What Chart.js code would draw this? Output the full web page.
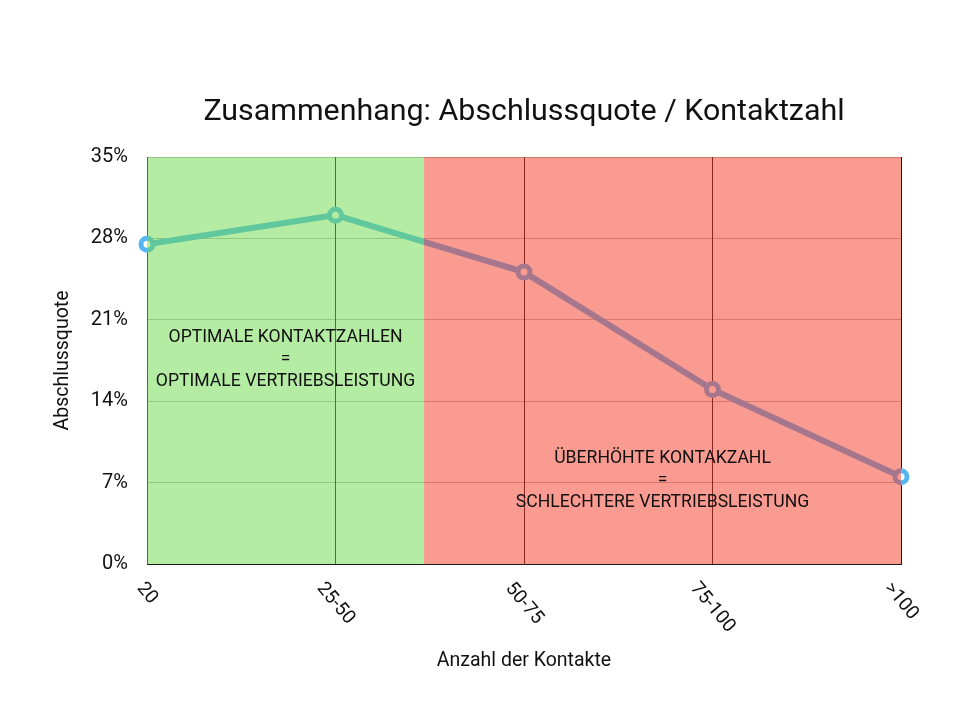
<!DOCTYPE html>
<html lang="de">
<head>
<meta charset="utf-8">
<title>Zusammenhang: Abschlussquote / Kontaktzahl</title>
<script src="https://cdn.jsdelivr.net/npm/chart.js@4.4.1/dist/chart.umd.min.js"></script>
<style>
  html, body { margin: 0; padding: 0; background: #fff; }
  #wrap { width: 963px; height: 722px; }
</style>
</head>
<body>
<div id="wrap"><canvas id="myChart"></canvas></div>
<script>
const categories = ["20", "25-50", "50-75", "75-100", ">100"];
const quote = [27.5, 30.0, 25.1, 15.0, 7.5];
const yTicks = [0, 7, 14, 21, 28, 35];

// zones in category-index units
const zoneBounds = [0, 1.47, 4];
const zoneColors = ["rgba(107,217,71,0.5)", "rgba(245,55,37,0.5)"];
const zoneTexts = [
	["OPTIMALE KONTAKTZAHLEN", "=", "OPTIMALE VERTRIEBSLEISTUNG"],
	["ÜBERHÖHTE KONTAKZAHL", "=", "SCHLECHTERE VERTRIEBSLEISTUNG"]
];
const zoneTextLevel = [17.6, 7.2];

const chartTitle = "Zusammenhang: Abschlussquote / Kontaktzahl";

const overlay = {
	id: "overlay",
	afterDatasetsDraw(chart) {
		const { ctx, chartArea: a, scales: { x, y } } = chart;

		ctx.save();
		ctx.beginPath();
		ctx.rect(a.left, a.top, a.right - a.left, a.bottom - a.top);
		ctx.clip();
		zoneColors.forEach((c, i) => {
			const x0 = x.getPixelForValue(zoneBounds[i]);
			const x1 = x.getPixelForValue(zoneBounds[i + 1]);
			ctx.fillStyle = c;
			ctx.fillRect(x0, a.top, x1 - x0, a.bottom - a.top);
		});
		ctx.restore();

		ctx.save();
		ctx.font = "17.6px Roboto";
		ctx.fillStyle = "#111";
		ctx.textAlign = "center";
		ctx.textBaseline = "middle";
		zoneTexts.forEach((lines, i) => {
			const cx = (x.getPixelForValue(zoneBounds[i]) + x.getPixelForValue(zoneBounds[i + 1])) / 2;
			const cy = y.getPixelForValue(zoneTextLevel[i]);
			lines.forEach((t, j) => ctx.fillText(t, cx, cy + (j - 1) * 22));
		});
		ctx.restore();
	},
	afterDraw(chart) {
		const { ctx, chartArea: a, scales: { x } } = chart;

		// title, centred over the plot area
		ctx.save();
		ctx.font = "30.4px Roboto";
		ctx.fillStyle = "#111";
		ctx.textAlign = "center";
		ctx.textBaseline = "middle";
		ctx.fillText(chartTitle, (a.left + a.right) / 2, 112);
		ctx.restore();

		// x tick labels, turned clockwise
		const ang = 50 * Math.PI / 180;
		ctx.save();
		ctx.font = "19px Roboto";
		ctx.fillStyle = "#111";
		ctx.textAlign = "center";
		ctx.textBaseline = "middle";
		categories.forEach((lbl, i) => {
			const w = ctx.measureText(lbl).width;
			const px = x.getPixelForTick(i);
			const py = a.bottom + 17 + (w * Math.sin(ang) + 13 * Math.cos(ang)) / 2;
			ctx.save();
			ctx.translate(px, py);
			ctx.rotate(ang);
			ctx.fillText(lbl, 0, 0);
			ctx.restore();
		});
		ctx.restore();
	}
};

const ctx = document.getElementById("myChart").getContext("2d");
const lineChart = new Chart(ctx, {
	type: "line",
	data: {
		labels: categories,
		datasets: [{
			label: "Abschlussquote",
			data: quote,
			borderColor: "#56b6f2",
			borderWidth: 6,
			pointRadius: 6,
			pointBorderWidth: 5,
			pointBackgroundColor: "#ffffff",
			pointBorderColor: "#56b6f2",
			tension: 0,
			clip: false
		}]
	},
	options: {
		responsive: true,
		maintainAspectRatio: false,
		animation: false,
		devicePixelRatio: 1,
		layout: { padding: { top: 157, left: 47, right: 62, bottom: 45 } },
		plugins: {
			legend: { display: false },
			title: { display: false },
			tooltip: { enabled: false }
		},
		scales: {
			x: {
				offset: false,
				grid: { color: "#1a1a1a", drawTicks: false },
				border: { color: "#1a1a1a" },
				ticks: { display: false },
				title: {
					display: true,
					text: "Anzahl der Kontakte",
					color: "#111",
					font: { family: "Roboto", size: 19.5 },
					padding: { top: 4, bottom: 4 }
				},
				afterFit: s => { s.height = 113; }
			},
			y: {
				min: 0,
				max: 35,
				grid: { color: "rgba(0,0,0,0.28)", drawTicks: false },
				border: { color: "#1a1a1a" },
				afterBuildTicks: s => { s.ticks = yTicks.map(v => ({ value: v })); },
				ticks: {
					padding: 19,
					color: "#111",
					font: { family: "Roboto", size: 20 },
					callback: v => v + "%"
				},
				title: {
					display: true,
					text: "Abschlussquote",
					color: "#111",
					font: { family: "Roboto", size: 19.5 },
					padding: { top: 4, bottom: 4 }
				},
				afterFit: s => { s.width = 100; }
			}
		}
	},
	plugins: [overlay]
});
</script>
</body>
</html>
